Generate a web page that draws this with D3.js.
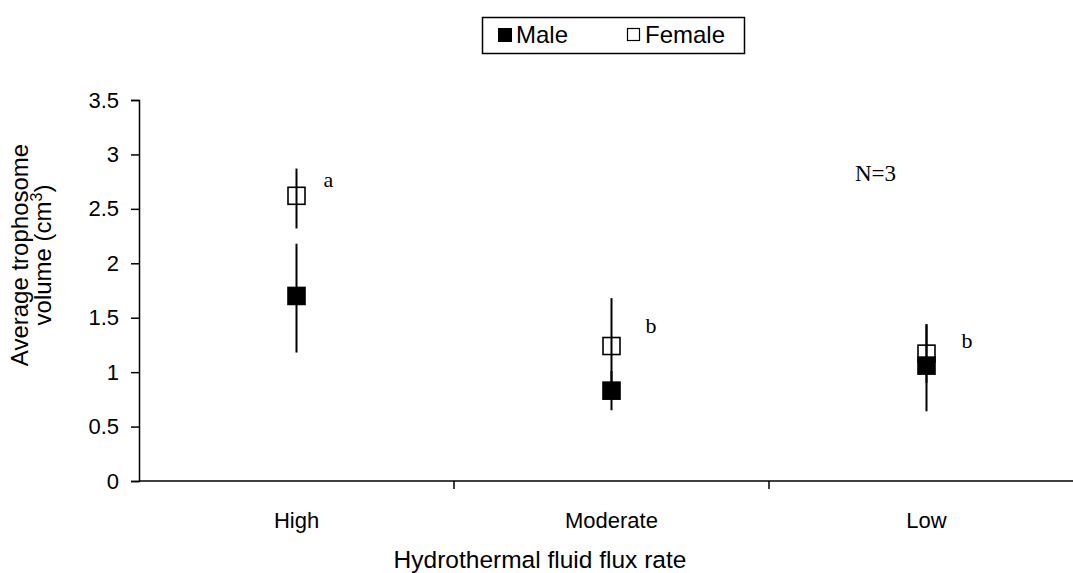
<!DOCTYPE html>
<html>
<head>
<meta charset="utf-8">
<script src="https://cdn.jsdelivr.net/npm/d3@7"></script>
<style>
  html, body { margin: 0; padding: 0; background: #fff; }
  svg { display: block; }
  text { font-family: "Liberation Sans", Arial, sans-serif; fill: #000; }
  .serif { font-family: "Liberation Serif", "Times New Roman", serif; }
</style>
</head>
<body>
<svg id="chart" width="1073" height="573"></svg>
<script>
// Trophosome volume by hydrothermal fluid flux rate, mean ± error
const categories = ["High", "Moderate", "Low"];
const maleMean = [1.70, 0.83, 1.06];
const maleErrUp = [0.48, 0.18, 0.38];
const maleErrDown = [0.52, 0.18, 0.42];
const femaleMean = [2.62, 1.24, 1.17];
const femaleErrUp = [0.25, 0.44, 0.27];
const femaleErrDown = [0.30, 0.44, 0.27];
const groupLetters = ["a", "b", "b"];
const yTicks = [0, 0.5, 1, 1.5, 2, 2.5, 3, 3.5];
const yTickLabels = ["0", "0.5", "1", "1.5", "2", "2.5", "3", "3.5"];

const svg = d3.select("#chart");

const x = d3.scaleBand().domain(categories).range([139, 1084]);
const y = d3.scaleLinear().domain([0, 3.5]).range([481, 100]);
const cx = c => x(c) + x.bandwidth() / 2;

// Y axis
const yAxis = d3.axisLeft(y).tickValues(yTicks)
  .tickFormat((d, i) => yTickLabels[i]).tickSize(8).tickPadding(12);
const gy = svg.append("g").attr("transform", "translate(139,0)").call(yAxis);
gy.select(".domain").attr("stroke", "#000").attr("stroke-width", 1.5);
gy.selectAll(".tick line").attr("stroke", "#000").attr("stroke-width", 1.5);
gy.selectAll(".tick text").style("font-size", "22px")
  .style("font-family", "'Liberation Sans', Arial, sans-serif").attr("fill", "#000");

// X axis: line with separators between categories
const gx = svg.append("g");
gx.append("line").attr("x1", 139).attr("x2", 1084)
  .attr("y1", y(0)).attr("y2", y(0)).attr("stroke", "#000").attr("stroke-width", 1.5);
const separators = categories.slice(1).map(c => x(c));
gx.selectAll("line.sep").data(separators).join("line").attr("class", "sep")
  .attr("x1", d => d).attr("x2", d => d)
  .attr("y1", y(0)).attr("y2", y(0) + 8)
  .attr("stroke", "#000").attr("stroke-width", 1.5);
gx.selectAll("text.cat").data(categories).join("text").attr("class", "cat")
  .attr("x", d => cx(d)).attr("y", 528)
  .attr("text-anchor", "middle").style("font-size", "22px").text(d => d);

// Axis titles
svg.append("text").attr("x", 540).attr("y", 568).attr("text-anchor", "middle")
  .style("font-size", "24.5px").text("Hydrothermal fluid flux rate");
const yt = svg.append("text").attr("transform", "translate(0,255) rotate(-90)")
  .attr("text-anchor", "middle").style("font-size", "24px");
yt.append("tspan").attr("x", 0).attr("y", 28).text("Average trophosome");
const line2 = yt.append("tspan").attr("x", 0).attr("y", 51);
line2.text("volume (cm");
yt.append("tspan").attr("dy", -9).style("font-size", "16px").text("3");
yt.append("tspan").attr("dy", 9).text(")");

// Error bars (no caps)
const bars = svg.append("g");
const addErr = (means, up, down) => {
  bars.selectAll(null).data(categories).join("line")
    .attr("x1", d => cx(d)).attr("x2", d => cx(d))
    .attr("y1", (d, i) => y(means[i] + up[i]))
    .attr("y2", (d, i) => y(means[i] - down[i]))
    .attr("stroke", "#000").attr("stroke-width", 2);
};
addErr(femaleMean, femaleErrUp, femaleErrDown);
addErr(maleMean, maleErrUp, maleErrDown);

// Markers: open squares for females, filled squares for males
const ms = 17;
svg.append("g").selectAll("rect").data(categories).join("rect")
  .attr("x", d => cx(d) - ms / 2)
  .attr("y", (d, i) => y(femaleMean[i]) - ms / 2)
  .attr("width", ms).attr("height", ms)
  .attr("fill", "none").attr("stroke", "#000").attr("stroke-width", 1.6);
svg.append("g").selectAll("rect").data(categories).join("rect")
  .attr("x", d => cx(d) - ms / 2 - 0.8)
  .attr("y", (d, i) => y(maleMean[i]) - ms / 2 - 0.8)
  .attr("width", ms + 1.6).attr("height", ms + 1.6)
  .attr("fill", "#000");

// Significance letters beside each group
const letterDx = [27, 34, 35];
const letterDy = [-9, -13, -6];
svg.append("g").selectAll("text").data(categories).join("text")
  .attr("class", "serif")
  .attr("x", (d, i) => cx(d) + letterDx[i])
  .attr("y", (d, i) => y(femaleMean[i]) + letterDy[i])
  .style("font-size", "22px").text((d, i) => groupLetters[i]);

svg.append("text").attr("class", "serif").attr("x", 855).attr("y", 181)
  .style("font-size", "23px").text("N=3");

// Legend
const lg = svg.append("g");
lg.append("rect").attr("x", 482.5).attr("y", 17.5).attr("width", 262).attr("height", 36)
  .attr("fill", "#fff").attr("stroke", "#000").attr("stroke-width", 1.5);
lg.append("rect").attr("x", 498).attr("y", 28).attr("width", 14).attr("height", 14).attr("fill", "#000");
lg.append("text").attr("x", 516).attr("y", 43).style("font-size", "24px").text("Male");
lg.append("rect").attr("x", 627.5).attr("y", 28.5).attr("width", 12).attr("height", 12)
  .attr("fill", "#fff").attr("stroke", "#000").attr("stroke-width", 1.2);
lg.append("text").attr("x", 645).attr("y", 43).style("font-size", "24px").text("Female");
</script>
</body>
</html>
